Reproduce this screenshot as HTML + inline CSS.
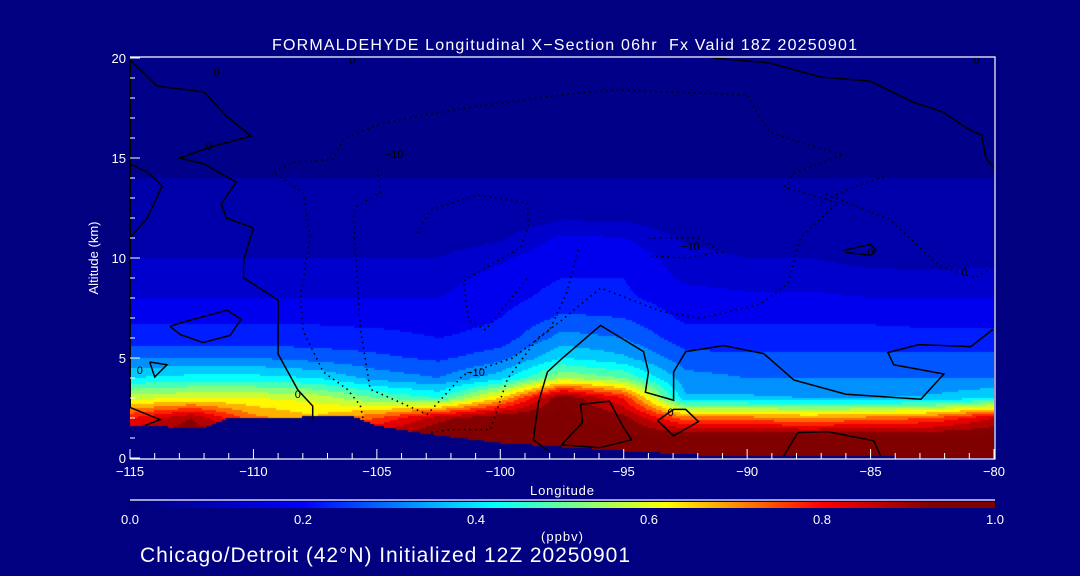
<!DOCTYPE html>
<html><head><meta charset="utf-8">
<style>
html,body{margin:0;padding:0;background:#000080;}
#wrap{position:relative;width:1080px;height:576px;overflow:hidden;background:#000080;font-family:"Liberation Sans",sans-serif;color:#fff;}
canvas{position:absolute;left:130px;top:58px;}
svg{position:absolute;left:0;top:0;}
</style></head>
<body>
<div id="wrap">
<canvas id="fld" width="864" height="400"></canvas>
<canvas id="cbar" width="865" height="6" style="left:130px;top:502px"></canvas>
<svg id="ov" width="1080" height="576"></svg>
</div>
<script>
// ---- data ----
const lonGrid=[-115,-112.5,-110,-107.5,-105,-102.5,-100,-97.5,-95,-92.5,-90,-87.5,-85,-82.5,-80];
const altGrid=[0,1,2,3,4,5,6,7,8,9,10,11,12,13,14,15];
const row0 =[.9,.95,.9,.9,.9,.97,.97,.97,.97,.97,.97,.97,.97,.97,.97];
const row1 =[.9,.95,.9,.9,.9,.97,.97,.97,.97,.97,.97,.97,.97,.97,.97];
const row2 =[.8,.9,.72,.66,.75,.88,.95,.97,.92,.72,.72,.7,.72,.75,.85];
const row3 =[.58,.6,.6,.58,.5,.45,.65,.95,.8,.36,.36,.35,.35,.36,.4];
const row4 =[.4,.42,.42,.4,.33,.3,.38,.55,.5,.32,.3,.3,.3,.3,.3];
const row5 =[.3,.3,.3,.28,.26,.24,.28,.4,.36,.27,.26,.26,.26,.26,.26];
const row6 =[.22,.22,.22,.22,.22,.2,.22,.32,.3,.22,.22,.22,.22,.22,.22];
const row7 =[.19,.19,.19,.19,.18,.17,.2,.26,.25,.19,.19,.19,.19,.18,.18];
const row8 =[.15,.15,.15,.15,.15,.15,.18,.22,.21,.17,.16,.16,.15,.15,.15];
const row9 =[.13,.13,.13,.13,.13,.13,.17,.2,.2,.14,.13,.13,.12,.12,.12];
const row10=[.1,.1,.1,.1,.1,.1,.14,.19,.19,.12,.1,.1,.08,.07,.08];
const row11=[.07,.07,.07,.07,.07,.07,.09,.16,.15,.09,.07,.07,.06,.05,.06];
const row12=[.06,.06,.06,.06,.06,.06,.06,.09,.09,.06,.06,.06,.05,.05,.06];
const row13=[.06,.06,.06,.06,.06,.06,.06,.06,.06,.06,.06,.06,.05,.05,.06];
const row14=[.05,.05,.05,.05,.05,.05,.05,.05,.05,.05,.05,.05,.05,.05,.05];
const row15=[.02,.02,.02,.02,.02,.02,.02,.02,.02,.02,.02,.02,.02,.02,.02];
const field=[row0,row1,row2,row3,row4,row5,row6,row7,row8,row9,row10,row11,row12,row13,row14,row15];
const terrainLon=[-115,-112,-111,-108,-106,-105,-103,-100,-95,-92,-80];
const terrainAlt=[1.6,1.5,2.0,2.05,2.1,1.6,1.2,0.75,0.35,0.15,0.0];
const xTicks=[-115,-110,-105,-100,-95,-90,-85,-80];
const yTicks=[0,5,10,15,20];
const cbTicks=[0.0,0.2,0.4,0.6,0.8,1.0];
// contours (lon, alt)
const solidA=[[-115,19.9],[-113.9,18.6],[-112,18.3],[-111.1,17.1],[-110.1,16.1],[-111.6,15.6],[-113,15],[-112,14.7],[-110.7,13.8],[-111.3,12.7],[-111.1,12],[-110,11.5],[-110.4,9.9],[-110.4,9],[-109,7.9],[-109,5.2],[-108.2,3.4],[-107.6,2.6],[-107.6,1.9]];
const solidA2=[[-115,11],[-114.3,12],[-113.7,13.6],[-114.3,14.3],[-115,14.7]];
const solidB=[[-98.05,0.35],[-98.66,0.91],[-98.45,2.78],[-98.09,4.3],[-97.56,4.91],[-95.94,6.63],[-94.2,5.32],[-94.0,4.3],[-94.12,3.29],[-92.98,2.89],[-92.98,4.3],[-92.49,5.32],[-90.95,5.62],[-89.33,5.22],[-88.11,3.9],[-86.0,3.19],[-82.96,2.94],[-82.03,4.2],[-84.06,4.66],[-84.3,5.27],[-83.05,5.67],[-80.94,5.57],[-80.04,6.43]];
const solidC=[[-96.75,2.68],[-95.58,2.84],[-95.05,1.62],[-94.68,0.91],[-95.98,0.51],[-97.52,0.66],[-96.67,1.77],[-96.75,2.68]];
const solidD=[[-93.63,1.87],[-92.98,2.43],[-92.49,2.43],[-91.97,1.82],[-92.98,1.11],[-93.63,1.87]];
const solidE=[[-88.52,0.1],[-87.95,1.27],[-86.74,1.32],[-84.87,0.86],[-84.59,0.1]];
const solidF=[[-113.38,6.58],[-112.97,6.18],[-112.04,5.77],[-110.94,6.13],[-110.5,6.94],[-111.07,7.39],[-112.89,6.78],[-113.38,6.58]];
const solidG=[[-86.09,10.38],[-85.0,10.68],[-84.79,10.38],[-85,10.13],[-86.0,10.28]];
const solidH=[[-114.2,4.8],[-113.5,4.66],[-114.0,4.05],[-114.2,4.8]];
const solidI=[[-115,2.53],[-113.78,1.92],[-114.4,1.62]];
const solidJ=[[-91.39,20.0],[-89.08,19.75],[-87.05,19.05],[-85.03,18.85],[-83.29,17.8],[-82.07,17.3],[-80.98,16.4],[-80.5,16.15],[-80.33,15.0],[-80.05,14.55]];
const dotRing=[[-102.8,1.27],[-102.02,1.42],[-100.4,1.42],[-99.71,3.95],[-98.5,5.97],[-97.56,6.84],[-95.94,8.5],[-93.5,7.34],[-91.89,6.99],[-89.45,7.7],[-88.36,8.71],[-87.83,11.04],[-86.33,12.76],[-88.5,13.55],[-88.1,14.25],[-86.1,15.15],[-87.9,15.8],[-89.08,16.3],[-89.5,17.05],[-89.99,18.15],[-93.1,18.3],[-95.3,18.4],[-97.04,18.23],[-100.81,17.62],[-103.24,17.11],[-104.86,16.71],[-106.36,15.95],[-106.77,14.94],[-108.4,14.78],[-109.2,14.28],[-107.98,13.27],[-107.7,11.04],[-108.1,8.0],[-107.98,6.33],[-107.17,4.3],[-106.2,3.44],[-105.67,2.63],[-105.55,1.92]];
const dotV=[[-104.98,14.43],[-104.86,13.27],[-105.8,12.6],[-105.96,12.05],[-105.67,6.48],[-105.27,3.44],[-102.96,2.18],[-101.5,4.15],[-99.5,5.0],[-98.0,6.4],[-97.3,8.3],[-96.8,10.6]];
const dotInner=[[-103.36,11.24],[-102.83,12.4],[-100.93,13.16],[-98.9,12.76],[-98.86,11.54],[-99.2,10.5],[-101.5,8.86],[-101.3,6.9],[-100.6,6.4],[-98.9,9.0]];
const dotK=[[-94.0,11.0],[-92.0,11.0],[-91.0,10.3],[-92.4,10.0],[-94.0,10.1]];
const dotR=[[-86.8,13.2],[-84.2,11.9],[-82.2,9.6],[-80.8,9.0],[-80.2,9.4]];
const dotRtop=[[-87.0,12.8],[-85.6,13.6],[-84.4,14.1]];
const labelText=["0","0","0","0","0","0","0","−10","−10","−10","0","0"];
const labelLon=[-111.8,-111.5,-114.6,-108.2,-93.1,-85.0,-80.7,-101.0,-104.3,-92.3,-106.0,-81.2];
const labelAlt=[15.6,19.3,4.4,3.2,2.3,10.3,19.9,4.3,15.2,10.6,19.9,9.3];

// ---- scales ----
const L=130,R=994,T=58,B=458,W=R-L,H=B-T;
function xS(lon){return L+(lon+115)/35*W;}
function yS(alt){return B-alt/20*H;}
const stops=[[0,[0,0,120]],[0.2,[0,0,255]],[0.42,[0,255,255]],[0.52,[128,255,128]],[0.62,[255,255,0]],[0.8,[255,0,0]],[0.93,[128,0,0]],[1,[128,0,0]]];
function cmap(v){v=Math.max(0,Math.min(1,v));for(let i=1;i<stops.length;i++){if(v<=stops[i][0]){const a=stops[i-1],b=stops[i];const t=(v-a[0])/(b[0]-a[0]);return a[1].map((c,k)=>Math.round(c+(b[1][k]-c)*t));}}return stops[stops.length-1][1];}
function interp1(xs,ys,x){if(x<=xs[0])return ys[0];for(let i=1;i<xs.length;i++){if(x<=xs[i]){const t=(x-xs[i-1])/(xs[i]-xs[i-1]);return ys[i-1]+(ys[i]-ys[i-1])*t;}}return ys[ys.length-1];}
function sample(lon,alt){
  let ci=(lon-lonGrid[0])/2.5;ci=Math.max(0,Math.min(lonGrid.length-1.0001,ci));
  let ri=alt;ri=Math.max(0,Math.min(altGrid.length-1.0001,ri));
  const c0=Math.floor(ci),r0=Math.floor(ri),tc=ci-c0,tr=ri-r0;
  const a=field[r0][c0],b=field[r0][c0+1],c=field[r0+1][c0],d=field[r0+1][c0+1];
  return (a*(1-tc)+b*tc)*(1-tr)+(c*(1-tc)+d*tc)*tr;
}
// ---- field ----
const ctx=document.getElementById('fld').getContext('2d');
const step=2;
for(let px=0;px<W;px+=step){
  const lon=-115+(px+step/2)/W*35;
  const ter=interp1(terrainLon,terrainAlt,lon);
  for(let py=0;py<H;py+=step){
    const alt=20-(py+step/2)/H*20;
    let col;
    if(alt<ter){col=[0,0,128];}
    else{const v=sample(lon,alt);const q=Math.min(0.99,Math.floor(v*20)/20+0.025);col=cmap(q);}
    ctx.fillStyle='rgb('+col.join(',')+')';
    ctx.fillRect(px,py,step,step);
  }
}
// colorbar
const cb=document.getElementById('cbar').getContext('2d');
for(let i=0;i<865;i++){const c=cmap(i/864);cb.fillStyle='rgb('+c.join(',')+')';cb.fillRect(i,0,1,6);}
// ---- svg ----
const NS='http://www.w3.org/2000/svg';
const svg=document.getElementById('ov');
function mk(tag,attrs,text){const e=document.createElementNS(NS,tag);for(const k in attrs)e.setAttribute(k,attrs[k]);if(text!==undefined)e.textContent=text;svg.appendChild(e);return e;}
function poly(pts,dotted,name){
  const e=mk('polyline',{points:pts.map(p=>xS(p[0]).toFixed(1)+','+yS(p[1]).toFixed(1)).join(' '),fill:'none',stroke:'#000','stroke-width':dotted?1.6:1.5,'stroke-dasharray':dotted?'1.5,4':'none'});
  
  
}
[[solidA,'a'],[solidA2,'a2'],[solidB,'b'],[solidC,'c'],[solidD,'d'],[solidE,'e'],[solidF,'f'],[solidG,'g'],[solidH,'h'],[solidI,'i'],[solidJ,'j']].forEach(s=>poly(s[0],false,'contour-zero-'+s[1]));
[[dotRing,'ring'],[dotV,'v'],[dotInner,'inner'],[dotK,'k'],[dotR,'r'],[dotRtop,'rtop']].forEach(s=>poly(s[0],true,'contour-minus10-'+s[1]));
const le=mk('line',{x1:L,y1:T+3,x2:L,y2:yS(2.5),stroke:'#000','stroke-width':2});


labelText.forEach((t,i)=>{
  const e=mk('text',{x:xS(labelLon[i]),y:yS(labelAlt[i])+4,'font-size':11,fill:'#000','text-anchor':'middle'},t);
  
  
});
const fr=mk('path',{d:`M${L},${T-1}H${R+1}V${B+1}H${L}`,fill:'none',stroke:'#fff','stroke-width':1.2});


for(let lon=-115;lon<=-80;lon++){
  const major=(lon%5===0);
  const t=mk('line',{x1:xS(lon),x2:xS(lon),y1:B+1,y2:B+1-(major?10:6),stroke:'#fff','stroke-width':1});
  
  
}
xTicks.forEach(v=>{
  const e=mk('text',{x:xS(v),y:B+18,'font-size':13,fill:'#fff','text-anchor':'middle'},v<0?'−'+Math.abs(v):String(v));
  
  
});
for(let a=0;a<=20;a++){
  const major=(a%5===0);
  const t=mk('line',{x1:L,x2:L+(major?10:5),y1:yS(a),y2:yS(a),stroke:'#fff','stroke-width':1});
  
  
}
yTicks.forEach(v=>{
  const e=mk('text',{x:L-4,y:yS(v)+5,'font-size':13,fill:'#fff','text-anchor':'end'},String(v));
  
  
});
const cl=mk('line',{x1:L,x2:R+1,y1:500,y2:500,stroke:'#fff','stroke-width':1.2});


cbTicks.forEach(v=>{
  const e=mk('text',{x:L+v*(R+1-L),y:524,'font-size':13,fill:'#fff','text-anchor':'middle'},v.toFixed(1));
  
  
});
function label(x,y,size,t,name,anchor,rot,len){
  const a={x:x,y:y,'font-size':size,fill:'#fff','text-anchor':anchor||'start'};
  if(rot)a.transform=rot;
  if(len){a.textLength=len;a.lengthAdjust='spacing';}
  const e=mk('text',a,t);
  
  
}
label(272,50,16,'FORMALDEHYDE Longitudinal X−Section 06hr\u00a0\u00a0Fx Valid 18Z 20250901','chart-title','start',null,585);
label(530,495,13,'Longitude','x-axis-title','start',null,64);
label(98,258,13,'Altitude (km)','y-axis-title','middle','rotate(-90 98 258)');
label(541,541,13,'(ppbv)','colorbar-units','start',null,42);
label(140,562,21,'Chicago/Detroit (42°N) Initialized 12Z 20250901','subtitle','start',null,490);
</script>
</body></html>
